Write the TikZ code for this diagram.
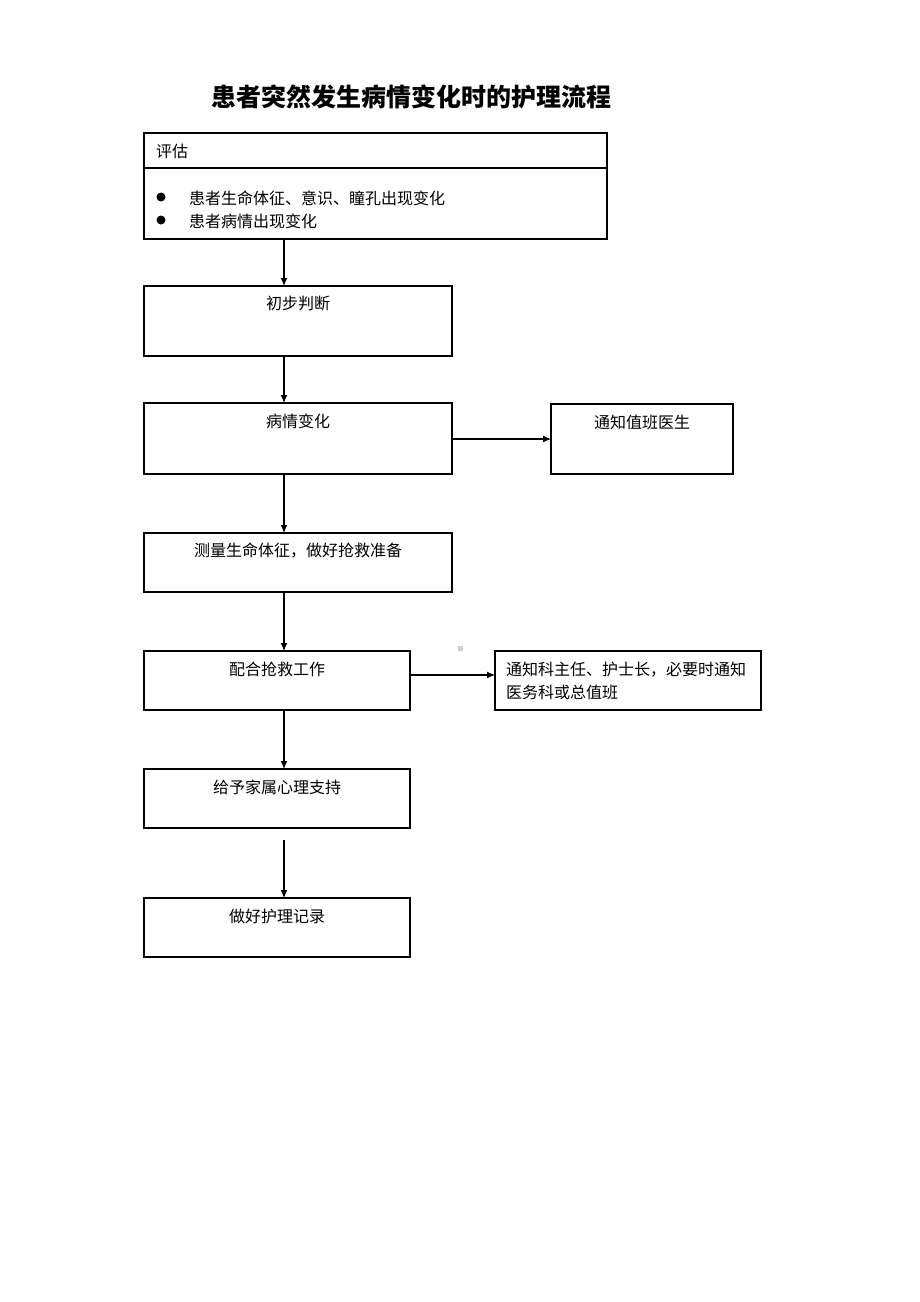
\documentclass[tikz,border=0pt]{standalone}
\usepackage{fontspec}
\setmainfont{Noto Sans CJK SC}
\usetikzlibrary{arrows.meta}
\tikzset{
  box/.style={draw=black, line width=1.2pt, rectangle, inner sep=0pt, outer sep=0pt},
  arr/.style={line width=1.2pt, -{Latex[length=8pt,width=7pt]}},
  txt/.style={inner sep=0pt, font=\fontsize{16}{20}\selectfont},
  ttl/.style={inner sep=0pt, font=\fontsize{25}{28}\selectfont\bfseries},
  dot/.style={circle, fill=black, inner sep=0pt, minimum size=9pt}
}
\begin{document}
\begin{tikzpicture}[x=1pt,y=-1pt]
\useasboundingbox (0,0) rectangle (920,1302);
\fill[white] (0,0) rectangle (920,1302);
\coordinate (ax) at (284,0);
% title
\node[ttl] (title) at (411,97) {患者突然发生病情变化时的护理流程};
% box 1
\node[box, minimum width=463pt, minimum height=106pt] (b1) at (375.5,186) {};
\draw[line width=1.2pt] ([yshift=-35pt]b1.north west) -- ([yshift=-35pt]b1.north east);
\node[txt, anchor=west] (t1) at (156,151) {评估};
\node[dot] (d1) at (161,197) {};
\node[dot] (d2) at (161,220) {};
\node[txt, anchor=west] (t1a) at (189,198) {患者生命体征、意识、瞳孔出现变化};
\node[txt, anchor=west] (t1b) at (189,221) {患者病情出现变化};
% box 2
\node[box, minimum width=308pt, minimum height=70pt] (b2) at (298,321) {};
\node[txt] (t2) at (298,303) {初步判断};
% box 3
\node[box, minimum width=308pt, minimum height=71pt] (b3) at (298,438.5) {};
\node[txt] (t3) at (298,421) {病情变化};
% box 3 right
\node[box, minimum width=182pt, minimum height=70pt] (r3) at (642,439) {};
\node[txt] (tr3) at (642,422) {通知值班医生};
% box 4
\node[box, minimum width=308pt, minimum height=59pt] (b4) at (298,562.5) {};
\node[txt] (t4) at (298,551) {测量生命体征，做好抢救准备};
% box 5
\node[box, minimum width=266pt, minimum height=59pt] (b5) at (277,680.5) {};
\node[txt] (t5) at (277,669) {配合抢救工作};
% box 5 right
\node[box, minimum width=266pt, minimum height=59pt] (r5) at (628,680.5) {};
\node[txt, anchor=west, align=left, font=\fontsize{16}{23}\selectfont] (tr5) at (506,681) {通知科主任、护士长，必要时通知\\医务科或总值班};
% box 6
\node[box, minimum width=266pt, minimum height=59pt] (b6) at (277,798.5) {};
\node[txt] (t6) at (277,787) {给予家属心理支持};
% box 7
\node[box, minimum width=266pt, minimum height=59pt] (b7) at (277,927.5) {};
\node[txt] (t7) at (277,916) {做好护理记录};
% stray dot
\fill[black!18] (457.5,645.5) rectangle (462.5,650.5);
% connectors
\draw[arr] (b1.south -| ax) -- (b2.north -| ax);
\draw[arr] (b2.south -| ax) -- (b3.north -| ax);
\draw[arr] (b3.east |- r3.west) -- (r3.west);
\draw[arr] (b3.south -| ax) -- (b4.north -| ax);
\draw[arr] (b4.south -| ax) -- (b5.north -| ax);
\draw[arr] (b5.east |- 0,675) -- (r5.west |- 0,675);
\draw[arr] (b5.south -| ax) -- (b6.north -| ax);
\coordinate (c7) at (284,840);
\draw[arr] (c7) -- (b7.north -| ax);
\end{tikzpicture}
\end{document}
